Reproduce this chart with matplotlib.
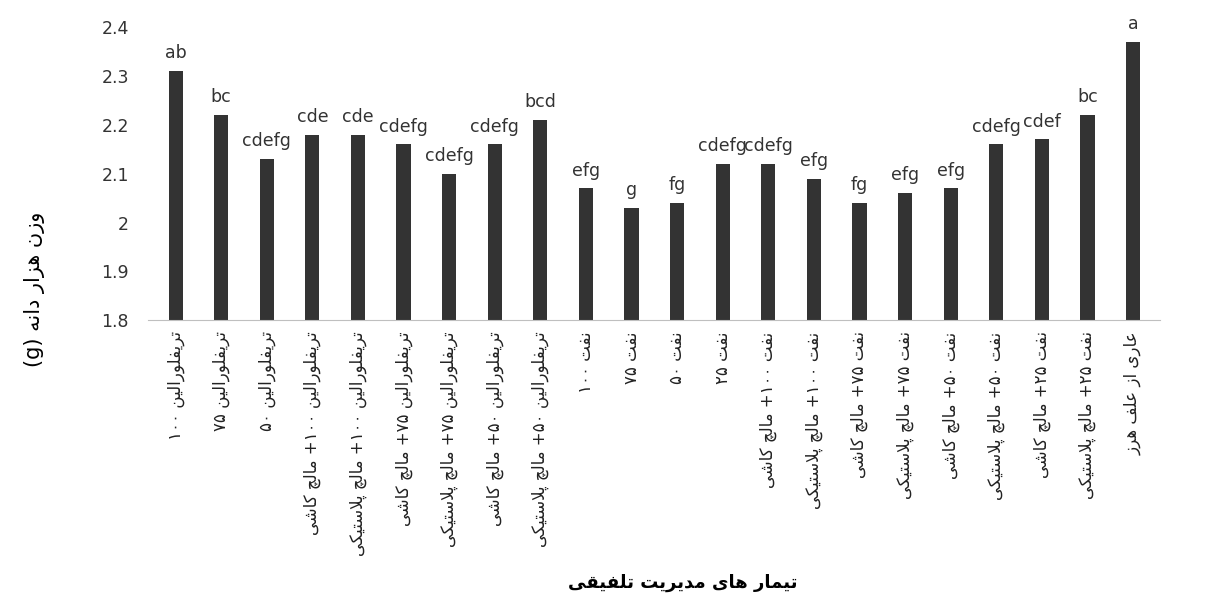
import re

import matplotlib
matplotlib.use("Agg")
import matplotlib.pyplot as plt

# treatment names (logical Persian order)
treatments = [
    "تریفلورالین ۱۰۰",
    "تریفلورالین ۷۵",
    "تریفلورالین ۵۰",
    "تریفلورالین ۱۰۰+ مالچ کاشی",
    "تریفلورالین ۱۰۰+ مالچ پلاستیکی",
    "تریفلورالین ۷۵+ مالچ کاشی",
    "تریفلورالین ۷۵+ مالچ پلاستیکی",
    "تریفلورالین ۵۰+ مالچ کاشی",
    "تریفلورالین ۵۰+ مالچ پلاستیکی",
    "نفت ۱۰۰",
    "نفت ۷۵",
    "نفت ۵۰",
    "نفت ۲۵",
    "نفت ۱۰۰+ مالچ کاشی",
    "نفت ۱۰۰+ مالچ پلاستیکی",
    "نفت ۷۵+ مالچ کاشی",
    "نفت ۷۵+ مالچ پلاستیکی",
    "نفت ۵۰+ مالچ کاشی",
    "نفت ۵۰+ مالچ پلاستیکی",
    "نفت ۲۵+ مالچ کاشی",
    "نفت ۲۵+ مالچ پلاستیکی",
    "عاری از علف هرز",
]
seed_weight = [2.31, 2.22, 2.13, 2.18, 2.18, 2.16, 2.10, 2.16, 2.21, 2.07, 2.03,
               2.04, 2.12, 2.12, 2.09, 2.04, 2.06, 2.07, 2.16, 2.17, 2.22, 2.37]
groups = ["ab", "bc", "cdefg", "cde", "cde", "cdefg", "cdefg", "cdefg", "bcd",
          "efg", "g", "fg", "cdefg", "cdefg", "efg", "fg", "efg", "efg",
          "cdefg", "cdef", "bc", "a"]
y_ticks = [1.8, 1.9, 2.0, 2.1, 2.2, 2.3, 2.4]
y_ticklabels = ["1.8", "1.9", "2", "2.1", "2.2", "2.3", "2.4"]

ylabel_fa = "وزن هزار دانه (g)"
xlabel_fa = "تیمار های مدیریت تلفیقی"

# matplotlib has no arabic shaping, so pick presentation forms by hand
# (isolated, final, initial, medial) - right joiners only have two
FORMS = {
    "ا": ("\uFE8D", "\uFE8E"),
    "د": ("\uFEA9", "\uFEAA"),
    "ر": ("\uFEAD", "\uFEAE"),
    "ز": ("\uFEAF", "\uFEB0"),
    "و": ("\uFEED", "\uFEEE"),
    "ب": ("\uFE8F", "\uFE90", "\uFE91", "\uFE92"),
    "پ": ("\uFB56", "\uFB57", "\uFB58", "\uFB59"),
    "ت": ("\uFE95", "\uFE96", "\uFE97", "\uFE98"),
    "چ": ("\uFB7A", "\uFB7B", "\uFB7C", "\uFB7D"),
    "س": ("\uFEB1", "\uFEB2", "\uFEB3", "\uFEB4"),
    "ش": ("\uFEB5", "\uFEB6", "\uFEB7", "\uFEB8"),
    "ع": ("\uFEC9", "\uFECA", "\uFECB", "\uFECC"),
    "ف": ("\uFED1", "\uFED2", "\uFED3", "\uFED4"),
    "ق": ("\uFED5", "\uFED6", "\uFED7", "\uFED8"),
    "ک": ("\uFB8E", "\uFB8F", "\uFB90", "\uFB91"),
    "ل": ("\uFEDD", "\uFEDE", "\uFEDF", "\uFEE0"),
    "م": ("\uFEE1", "\uFEE2", "\uFEE3", "\uFEE4"),
    "ن": ("\uFEE5", "\uFEE6", "\uFEE7", "\uFEE8"),
    "ه": ("\uFEE9", "\uFEEA", "\uFEEB", "\uFEEC"),
    "ی": ("\uFBFC", "\uFBFD", "\uFBFE", "\uFBFF"),
}
DUAL = {c for c, f in FORMS.items() if len(f) == 4}


def shape(s):
    out = []
    i = 0
    while i < len(s):
        c = s[i]
        if c not in FORMS:
            out.append(c)
            i += 1
            continue
        prev_join = i > 0 and s[i - 1] in DUAL
        # lam + alef ligature
        if c == "ل" and i + 1 < len(s) and s[i + 1] == "ا":
            out.append("\uFEFC" if prev_join else "\uFEFB")
            i += 2
            continue
        next_join = c in DUAL and i + 1 < len(s) and s[i + 1] in FORMS
        f = FORMS[c]
        if prev_join and next_join:
            out.append(f[3])
        elif prev_join:
            out.append(f[1])
        elif next_join:
            out.append(f[2])
        else:
            out.append(f[0])
        i += 1
    return "".join(out)


def fa(s):
    # shaped text in visual order: rtl runs reversed, digit/latin runs kept
    runs = re.findall(r"[0-9\u06F0-\u06F9A-Za-z()]+|[^0-9\u06F0-\u06F9A-Za-z()]+", shape(s))
    vis = []
    for r in reversed(runs):
        if re.match(r"[0-9\u06F0-\u06F9A-Za-z()]", r):
            vis.append(r)
        else:
            vis.append(r[::-1])
    return "".join(vis)


fig = plt.figure(figsize=(12.05, 6.03), dpi=100)
ax = fig.add_axes([0.123, 0.469, 0.84, 0.486])

x = list(range(len(treatments)))
bars = ax.bar(x, seed_weight, width=0.31, color="#333333")
for xi, v, g in zip(x, seed_weight, groups):
    ax.text(xi, v + 0.018, g, ha="center", va="bottom", fontsize=12.5, color="#333333")

ax.set_ylim(1.8, 2.4)
ax.set_xlim(-0.6, len(treatments) - 0.4)
ax.set_yticks(y_ticks)
ax.set_yticklabels(y_ticklabels, fontsize=12.5, color="#333333")
ax.set_xticks(x)
ax.set_xticklabels([fa(t) for t in treatments], rotation=90, fontsize=12, color="#222222")
ax.tick_params(axis="both", length=0)
ax.tick_params(axis="y", pad=14)
ax.tick_params(axis="x", pad=8)

for side in ["left", "right", "top"]:
    ax.spines[side].set_visible(False)
ax.spines["bottom"].set_color("#bfbfbf")

fig.text(0.029, 0.52, fa(ylabel_fa), rotation=90, ha="center", va="center", fontsize=15)
fig.text(0.567, 0.033, fa(xlabel_fa), ha="center", va="center", fontsize=13, fontweight="bold")

fig.savefig("out.png", dpi=100)
